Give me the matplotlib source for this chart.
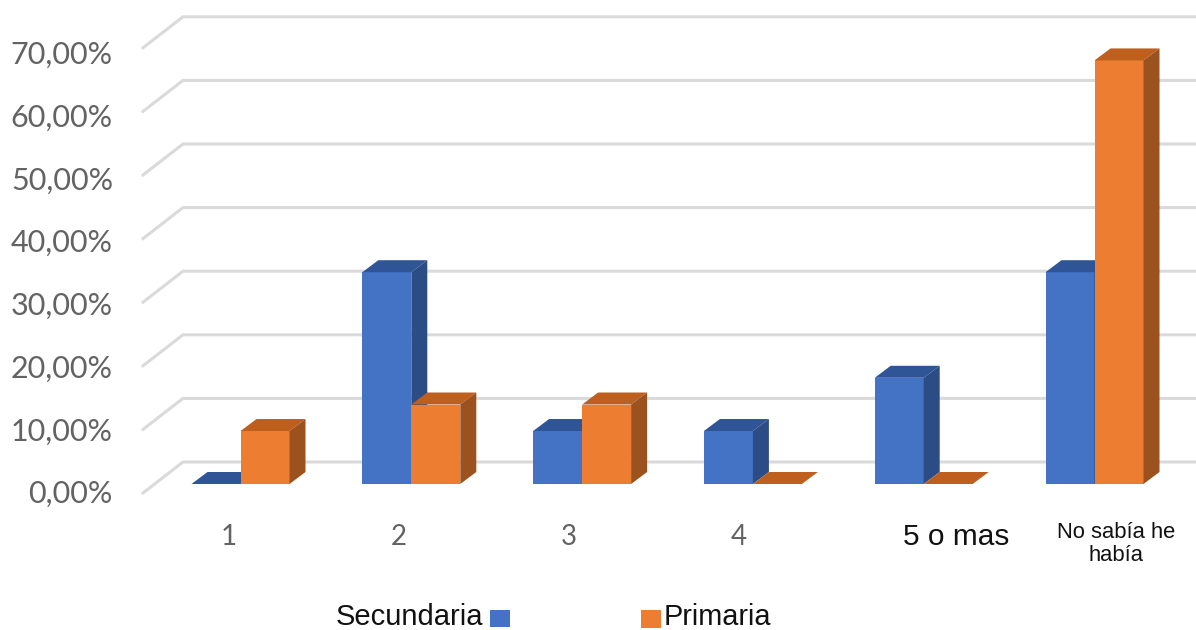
import matplotlib
matplotlib.use('Agg')
import matplotlib.pyplot as plt
from matplotlib.patches import Polygon, Rectangle

categorias = ['1', '2', '3', '4', '5 o mas', 'No sabía he\nhabía']
secundaria = [0, 33.3, 8.33, 8.33, 16.7, 33.3]
primaria = [8.33, 12.5, 12.5, 0, 0, 66.6]
ticks_y = [0, 10, 20, 30, 40, 50, 60, 70]
etiquetas_y = ['0,00%', '10,00%', '20,00%', '30,00%', '40,00%', '50,00%', '60,00%', '70,00%']

# escala en pixeles de la imagen
W, H = 1196, 630
X0, PX_CAT = 240.5, 170.8
Y0, PX_VAL = 484.0, 6.36
ANCHO = 49.0 / PX_CAT
DX, DY = 16 / PX_CAT, 12 / PX_VAL
PX_ETIQUETA = 6.27  # las etiquetas van un poco mas juntas que la grilla

AZUL = ('#4472C4', '#2F5597', '#2C4C86')
NARANJA = ('#ED7D31', '#BE5F1E', '#9C521E')
GRIS = '#636363'


def cx(p):
    return (p - X0) / PX_CAT


def vy(p):
    return (Y0 - p) / PX_VAL


def barra(ax, x, v, colores):
    frente, arriba, lado = colores
    d = [x, x + ANCHO]
    ax.add_patch(Rectangle((d[0], 0), ANCHO, v, fc=frente, ec='none', zorder=3))
    ax.add_patch(Polygon([(d[0], v), (d[1], v), (d[1] + DX, v + DY), (d[0] + DX, v + DY)],
                         fc=arriba, ec='none', zorder=3))
    if v > 0:
        ax.add_patch(Polygon([(d[1], 0), (d[1] + DX, DY), (d[1] + DX, v + DY), (d[1], v)],
                             fc=lado, ec='none', zorder=3))


fig = plt.figure(figsize=(W / 100, H / 100), dpi=100)
ax = fig.add_axes([0, 0, 1, 1])
ax.set_xlim(cx(0), cx(W))
ax.set_ylim(vy(H), vy(0))
ax.axis('off')

# paredes y lineas de la grilla
for t, etiqueta in zip(ticks_y, etiquetas_y):
    frente_y = t + vy(493)
    fondo_y = t + vy(462)
    ax.plot([cx(143), cx(183), cx(W)], [frente_y, fondo_y, fondo_y], color='#DADADA', lw=2.2,
            solid_joinstyle='miter', zorder=1)
    ax.text(cx(113), vy(494 - PX_ETIQUETA * t), etiqueta, ha='right', va='center', family='Lato',
            fontsize=22, color=GRIS)

for i in range(len(categorias)):
    barra(ax, i - ANCHO, secundaria[i], AZUL)
    barra(ax, i, primaria[i], NARANJA)

# etiquetas del eje x
for i, c in enumerate(categorias[:4]):
    ax.text(cx(229 + 170 * i), vy(537), c, ha='center', va='center', family='Lato', fontsize=20,
            color=GRIS)
ax.text(cx(956), vy(537), categorias[4], ha='center', va='center', family='Liberation Sans',
        fontsize=21.5, color='#111111')
ax.text(cx(1116), vy(544), categorias[5], ha='center', va='center', family='Liberation Sans',
        fontsize=15.8, color='#111111', linespacing=1.1)

# leyenda
ax.text(cx(336), vy(617), 'Secundaria', ha='left', va='center', family='Liberation Sans',
        fontsize=21, color='#111111')
ax.add_patch(Rectangle((cx(490), vy(627)), 20 / PX_CAT, 17 / PX_VAL, fc=AZUL[0], ec='none'))
ax.text(cx(664), vy(617), 'Primaria', ha='left', va='center', family='Liberation Sans',
        fontsize=20.8, color='#111111')
ax.add_patch(Rectangle((cx(641), vy(628)), 20 / PX_CAT, 18 / PX_VAL, fc=NARANJA[0], ec='none'))

fig.savefig('out.png', dpi=100)
